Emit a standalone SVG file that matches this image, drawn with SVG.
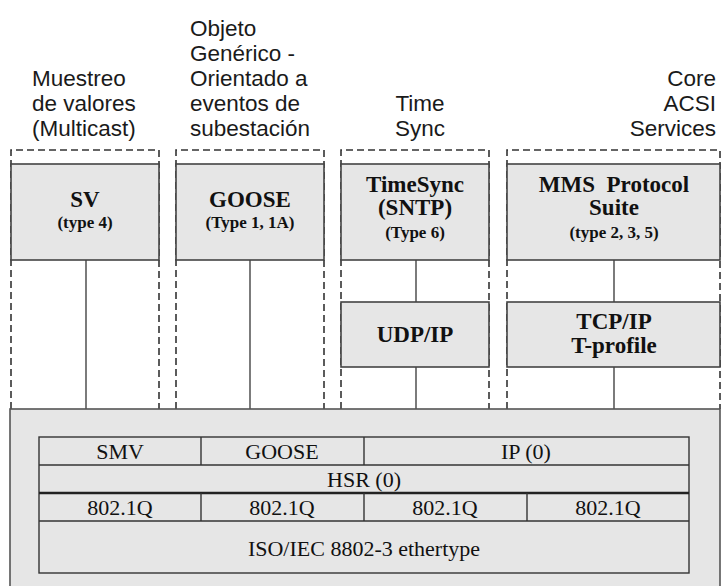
<svg xmlns="http://www.w3.org/2000/svg" width="722" height="586" viewBox="0 0 722 586">
  <style>
    .lbl { font-family: "Liberation Sans", Arial, sans-serif; font-size: 22.5px; fill: #1a1a1a; }
    .zone { fill: none; stroke: #333; stroke-width: 1.6; stroke-dasharray: 7 4; }
    .box { fill: #e6e6e6; stroke: #444; stroke-width: 1.6; }
    .link { stroke: #444; stroke-width: 1.4; fill: none; }
    .bt { font-family: "Liberation Serif", "Times New Roman", serif; font-weight: bold; font-size: 23px; fill: #111; text-anchor: middle; }
    .bs { font-family: "Liberation Serif", "Times New Roman", serif; font-weight: bold; font-size: 17px; fill: #111; text-anchor: middle; }
    .tbl { fill: none; stroke: #333; stroke-width: 1.4; }
    .tt { font-family: "Liberation Serif", "Times New Roman", serif; font-size: 22px; fill: #111; text-anchor: middle; }
  </style>
  <rect width="722" height="586" fill="#ffffff"/>

  <!-- service group captions -->
  <g id="captions">
    <text class="lbl" x="32" y="86">Muestreo</text>
    <text class="lbl" x="32" y="111">de valores</text>
    <text class="lbl" x="32" y="136">(Multicast)</text>

    <text class="lbl" x="190" y="36">Objeto</text>
    <text class="lbl" x="190" y="61">Genérico -</text>
    <text class="lbl" x="190" y="86">Orientado a</text>
    <text class="lbl" x="190" y="111">eventos de</text>
    <text class="lbl" x="190" y="136">subestación</text>

    <text class="lbl" x="420" y="111" text-anchor="middle">Time</text>
    <text class="lbl" x="420" y="136" text-anchor="middle">Sync</text>

    <text class="lbl" x="716" y="86" text-anchor="end">Core</text>
    <text class="lbl" x="716" y="111" text-anchor="end">ACSI</text>
    <text class="lbl" x="716" y="136" text-anchor="end">Services</text>
  </g>

  <!-- dashed service zones -->
  <g id="zones">
    <path class="zone" d="M11,409 V150 H159 V409"/>
    <path class="zone" d="M176,409 V150 H324 V409"/>
    <path class="zone" d="M341,409 V150 H489 V409"/>
    <path class="zone" d="M507,409 V150 H720 V409"/>
  </g>

  <!-- vertical links between stack layers -->
  <g id="connectors">
    <line class="link" x1="86" y1="260" x2="86" y2="409"/>
    <line class="link" x1="250" y1="260" x2="250" y2="409"/>
    <line class="link" x1="416" y1="260" x2="416" y2="302"/>
    <line class="link" x1="416" y1="367" x2="416" y2="409"/>
    <line class="link" x1="614" y1="260" x2="614" y2="302"/>
    <line class="link" x1="614" y1="367" x2="614" y2="409"/>
  </g>

  <g id="sv">
    <rect class="box" x="11" y="164" width="148" height="96"/>
    <text class="bt" x="85" y="207">SV</text>
    <text class="bs" x="85" y="228">(type 4)</text>
  </g>

  <g id="goose">
    <rect class="box" x="176" y="164" width="148" height="96"/>
    <text class="bt" x="250" y="207">GOOSE</text>
    <text class="bs" x="250" y="228">(Type 1, 1A)</text>
  </g>

  <g id="timesync">
    <rect class="box" x="341" y="164" width="148" height="96"/>
    <text class="bt" x="415" y="192">TimeSync</text>
    <text class="bt" x="415" y="215">(SNTP)</text>
    <text class="bs" x="415" y="238">(Type 6)</text>
  </g>

  <g id="mms">
    <rect class="box" x="507" y="164" width="213" height="96"/>
    <text class="bt" x="614" y="192" xml:space="preserve">MMS  Protocol</text>
    <text class="bt" x="614" y="215">Suite</text>
    <text class="bs" x="614" y="238">(type 2, 3, 5)</text>
  </g>

  <g id="udpip">
    <rect class="box" x="341" y="302" width="148" height="65"/>
    <text class="bt" x="415" y="342">UDP/IP</text>
  </g>

  <g id="tcpip">
    <rect class="box" x="507" y="302" width="213" height="65"/>
    <text class="bt" x="614" y="329">TCP/IP</text>
    <text class="bt" x="614" y="353">T-profile</text>
  </g>

  <!-- link layer stack -->
  <g id="linklayer">
    <rect x="10" y="409" width="710" height="182" fill="#e6e6e6" stroke="#555" stroke-width="1.6"/>
    <rect class="tbl" x="39" y="437" width="650" height="136"/>
    <line class="tbl" x1="39" y1="465" x2="689" y2="465"/>
    <line x1="39" y1="493" x2="689" y2="493" stroke="#222" stroke-width="2.6"/>
    <line class="tbl" x1="39" y1="521" x2="689" y2="521"/>
    <line class="tbl" x1="201" y1="437" x2="201" y2="465"/>
    <line class="tbl" x1="364" y1="437" x2="364" y2="465"/>
    <line class="tbl" x1="201" y1="493" x2="201" y2="521"/>
    <line class="tbl" x1="364" y1="493" x2="364" y2="521"/>
    <line class="tbl" x1="527" y1="493" x2="527" y2="521"/>

    <text class="tt" x="120" y="459">SMV</text>
    <text class="tt" x="282" y="459">GOOSE</text>
    <text class="tt" x="526" y="459">IP (0)</text>
    <text class="tt" x="364" y="487">HSR (0)</text>
    <text class="tt" x="120" y="515">802.1Q</text>
    <text class="tt" x="282" y="515">802.1Q</text>
    <text class="tt" x="445" y="515">802.1Q</text>
    <text class="tt" x="608" y="515">802.1Q</text>
    <text class="tt" x="364" y="556">ISO/IEC 8802-3 ethertype</text>
  </g>
</svg>
